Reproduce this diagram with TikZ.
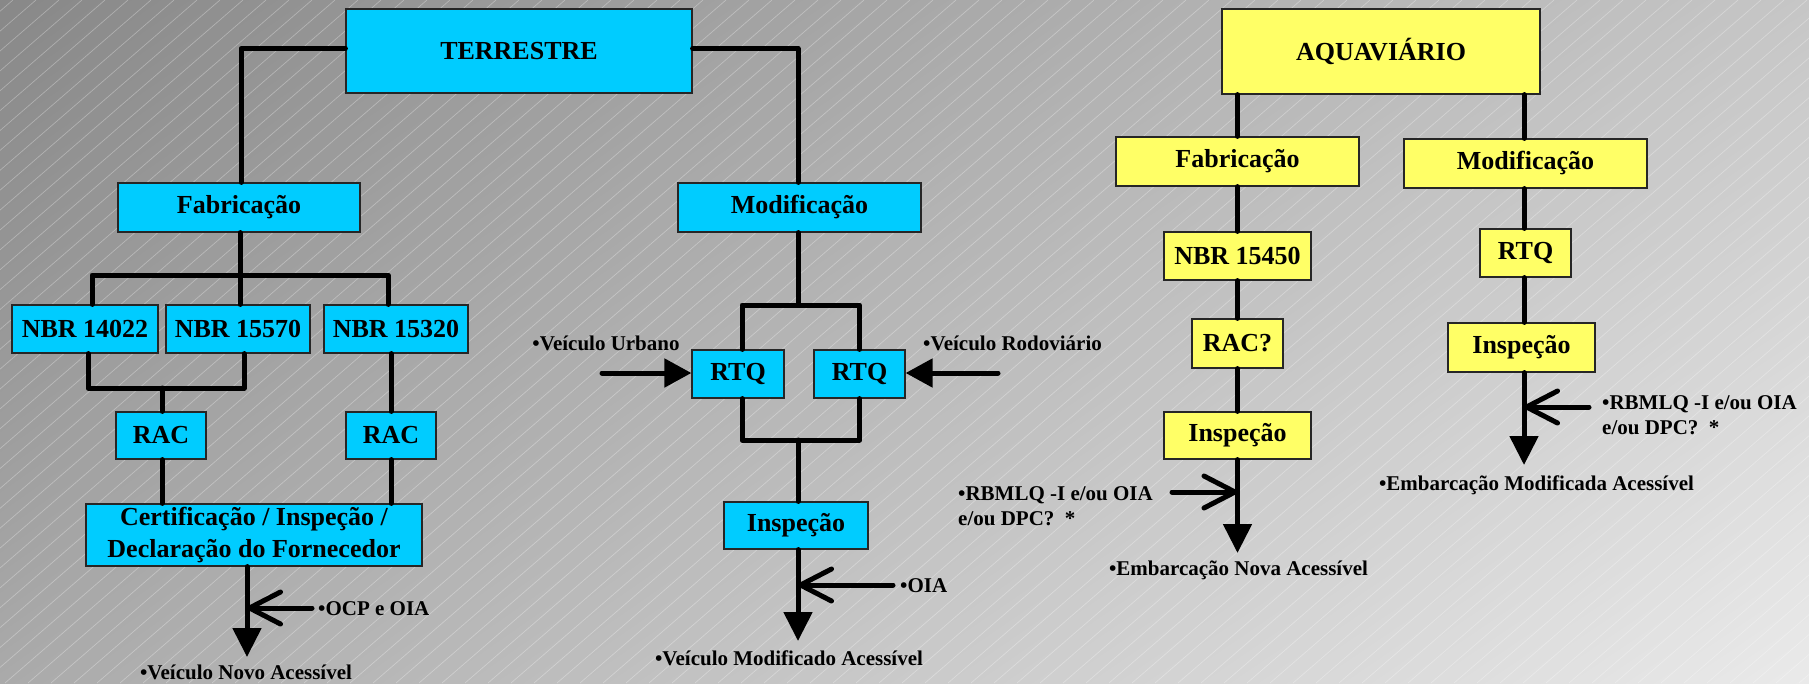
\documentclass[tikz,border=0pt]{standalone}
\usepackage{fontspec}
\setmainfont{Liberation Serif}
\usetikzlibrary{arrows.meta,shadings}
\definecolor{cyanbox}{RGB}{0,204,255}
\definecolor{yelbox}{RGB}{255,255,102}
\definecolor{bgUL}{RGB}{136,136,136}
\definecolor{bgUR}{RGB}{198,198,198}
\definecolor{bgLL}{RGB}{170,170,170}
\definecolor{bgLR}{RGB}{234,234,234}
\begin{document}
\begin{tikzpicture}[x=1pt,y=-1pt,
  bx/.style={draw=black!85, line width=1.2pt, inner sep=0pt, font=\bfseries\fontsize{26}{31}\selectfont, align=center},
  blu/.style={bx, fill=cyanbox},
  yel/.style={bx, fill=yelbox},
  conn/.style={line width=5pt, line cap=round, line join=round, draw=black},
  outarr/.style={conn, -{Triangle[length=29pt,width=28pt]}},
  inarr/.style={conn, -{Triangle[length=27pt,width=28pt]}},
  sidearr/.style={conn, -{Straight Barb[length=31pt,width=32pt,round]}},
  lbl/.style={font=\bfseries\fontsize{21}{25.5}\selectfont, inner sep=0pt, text height=14pt, text depth=0pt},
  lbltwo/.style={font=\bfseries\fontsize{21}{25.5}\selectfont, inner sep=0pt, align=left}
]
\useasboundingbox (0,0) rectangle (1809,683);
\shade[upper left=bgUL, upper right=bgUR, lower left=bgLL, lower right=bgLR] (0,0) rectangle (1809,683);
\begin{scope}
\clip (0,0) rectangle (1809,683);
\foreach \a in {-800,-777,...,1820} \draw[white, opacity=0.3, line width=0.7pt] (\a,683) -- ({\a+790},0);
\end{scope}

% --- TERRESTRE boxes
\node[blu, minimum width=346pt, minimum height=84pt] (terr) at (519,51) {TERRESTRE};
\node[blu, minimum width=242pt, minimum height=49pt] (fab1) at (239,207.5) {Fabricação};
\node[blu, minimum width=146pt, minimum height=48pt] (nbr1) at (85,329) {NBR 14022};
\node[blu, minimum width=144pt, minimum height=48pt] (nbr2) at (238,329) {NBR 15570};
\node[blu, minimum width=144pt, minimum height=48pt] (nbr3) at (396,329) {NBR 15320};
\node[blu, minimum width=90pt, minimum height=47pt] (rac1) at (161,435.5) {RAC};
\node[blu, minimum width=90pt, minimum height=47pt] (rac2) at (391,435.5) {RAC};
\node[blu, minimum width=336pt, minimum height=62pt, font=\bfseries\fontsize{26}{32}\selectfont] (cert) at (254,535) {Certificação / Inspeção /\\Declaração do Fornecedor};
\node[blu, minimum width=243pt, minimum height=49pt] (mod1) at (799.5,207.5) {Modificação};
\node[blu, minimum width=92pt, minimum height=48pt] (rtq1) at (738,374) {RTQ};
\node[blu, minimum width=91pt, minimum height=48pt] (rtq2) at (859.5,374) {RTQ};
\node[blu, minimum width=144pt, minimum height=47pt] (insp1) at (796,525.5) {Inspeção};

% --- AQUAVIARIO boxes
\node[yel, minimum width=318pt, minimum height=85pt] (aqua) at (1381,51.5) {AQUAVIÁRIO};
\node[yel, minimum width=243pt, minimum height=49pt] (fab2) at (1237.5,161.5) {Fabricação};
\node[yel, minimum width=147pt, minimum height=48pt] (nbr4) at (1237.5,256) {NBR 15450};
\node[yel, minimum width=91pt, minimum height=49pt] (racq) at (1237.5,343.5) {RAC?};
\node[yel, minimum width=147pt, minimum height=47pt] (insp2) at (1237.5,435.5) {Inspeção};
\node[yel, minimum width=243pt, minimum height=49pt] (mod2) at (1525.5,163.5) {Modificação};
\node[yel, minimum width=91pt, minimum height=48pt] (rtq3) at (1525.5,253) {RTQ};
\node[yel, minimum width=147pt, minimum height=49pt] (insp3) at (1521.5,347.5) {Inspeção};

% --- labels
\node[lbl, anchor=west] (ocp) at (318,608) {•OCP e OIA};
\node[lbl] (vna) at (246,672) {•Veículo Novo Acessível};
\node[lbl] (vma) at (789,658) {•Veículo Modificado Acessível};
\node[lbl, anchor=west] (oia) at (900,585) {•OIA};
\node[lbl] (vu) at (606,343) {•Veículo Urbano};
\node[lbl, anchor=west] (vr) at (923,343) {•Veículo Rodoviário};
\node[lbltwo, anchor=west] (rba) at (958,506) {•RBMLQ -I e/ou OIA\\e/ou DPC?~~*};
\node[lbl] (ena) at (1238.5,568) {•Embarcação Nova Acessível};
\node[lbltwo, anchor=west] (rbb) at (1602,415) {•RBMLQ -I e/ou OIA\\e/ou DPC?~~*};
\node[lbl] (ema) at (1536.5,483) {•Embarcação Modificada Acessível};

% --- coordinates for free ends
\coordinate (t1) at (247,657);
\coordinate (s1) at (312,608);
\coordinate (t2) at (798,641);
\coordinate (s2) at (893,585);
\coordinate (u1) at (602,373);
\coordinate (r1) at (998,373);
\coordinate (t3) at (1237.5,553);
\coordinate (s3) at (1172,492);
\coordinate (t4) at (1524,465);
\coordinate (s4) at (1589,407);
\coordinate (fbar) at (240,275);
\coordinate (nbar) at (162,388);
\coordinate (mbar) at (798,305);
\coordinate (mbarb) at (798,440);

% --- TERRESTRE connectors
\draw[conn] ([yshift=2.5pt]terr.west) -| ([xshift=2pt]fab1.north);
\draw[conn] ([yshift=2.5pt]terr.east) -| (mod1.north -| t2);
\draw[conn] (fab1.south -| fbar) -- (fbar);
\draw[conn] (fbar) -| ([xshift=7pt]nbr1.north);
\draw[conn] (fbar) -| ([xshift=-8pt]nbr3.north);
\draw[conn] (fbar) -- (nbr2.north -| fbar);
\draw[conn] ([xshift=3pt]nbr1.south) |- (nbar);
\draw[conn] ([xshift=6pt]nbr2.south) |- (nbar);
\draw[conn] (nbar) -- (rac1.north -| nbar);
\draw[conn] (rac1.south -| nbar) -- (cert.north -| nbar);
\draw[conn] (nbr3.south -| rac2.north) -- (rac2.north);
\draw[conn] (rac2.south) -- (rac2.south |- cert.north);
\draw[outarr] (cert.south -| t1) -- (t1);
\draw[sidearr] (s1) -- (s1 -| t1);

\draw[conn] (mod1.south -| mbar) -- (mbar);
\draw[conn] (mbar) -| ([xshift=4pt]rtq1.north);
\draw[conn] (mbar) -| (rtq2.north);
\draw[conn] ([xshift=4pt]rtq1.south) |- (mbarb);
\draw[conn] (rtq2.south) |- (mbarb);
\draw[conn] (mbarb) -- (insp1.north -| mbarb);
\draw[inarr] (u1) -- (u1 -| rtq1.west);
\draw[inarr] (r1) -- (r1 -| rtq2.east);
\draw[outarr] (insp1.south -| t2) -- (t2);
\draw[sidearr] (s2) -- (s2 -| t2);

% --- AQUAVIARIO connectors
\draw[conn] (aqua.south -| fab2.north) -- (fab2.north);
\draw[conn] (fab2.south) -- (nbr4.north);
\draw[conn] (nbr4.south) -- (racq.north);
\draw[conn] (racq.south) -- (insp2.north);
\draw[outarr] (insp2.south) -- (t3);
\draw[sidearr] (s3) -- (s3 -| t3);
\draw[conn] (aqua.south -| t4) -- (mod2.north -| t4);
\draw[conn] (mod2.south -| t4) -- (rtq3.north -| t4);
\draw[conn] (rtq3.south -| t4) -- (insp3.north -| t4);
\draw[outarr] (insp3.south -| t4) -- (t4);
\draw[sidearr] (s4) -- (s4 -| t4);
\end{tikzpicture}
\end{document}
